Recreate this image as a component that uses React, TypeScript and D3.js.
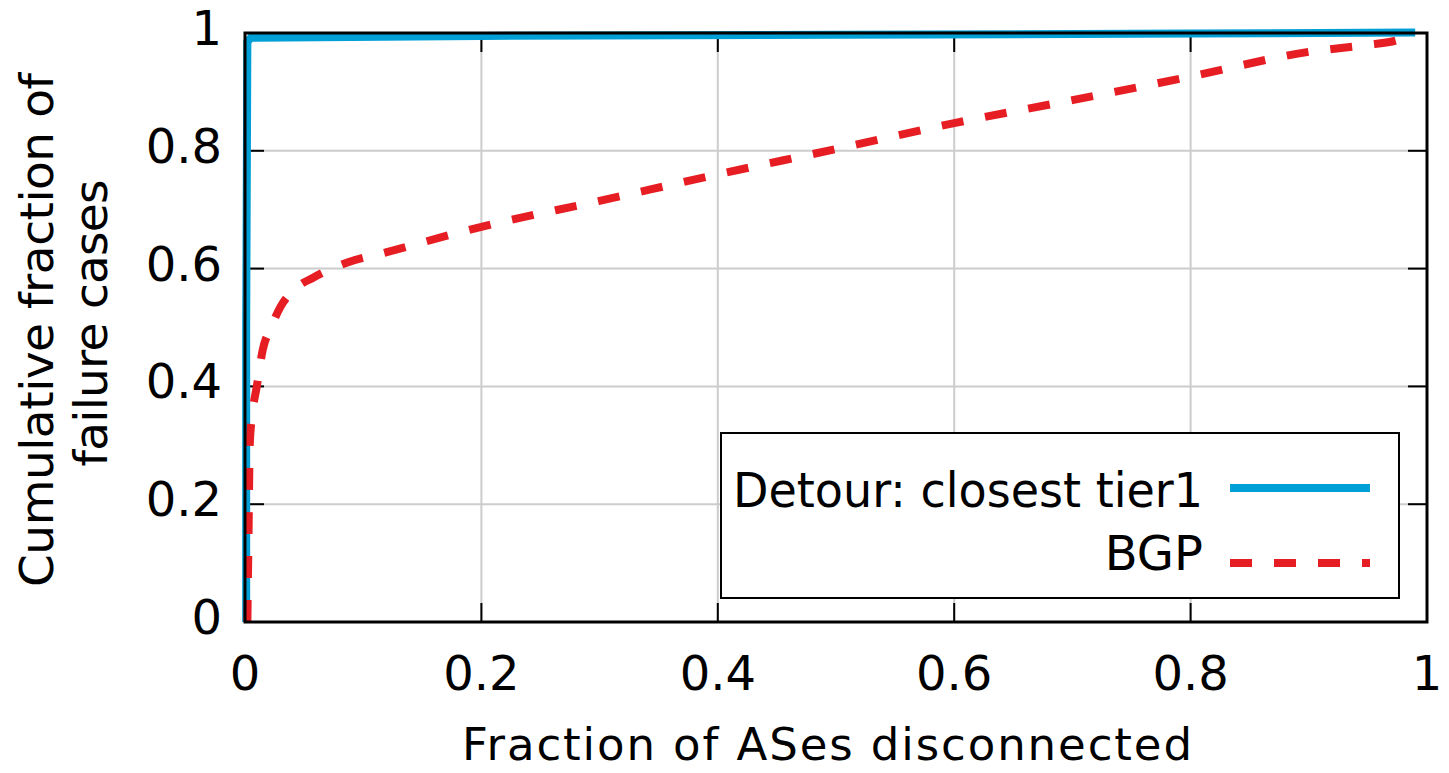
import React from 'react';
import * as d3 from 'd3';

// BGP CDF (fraction of ASes disconnected -> cumulative fraction)
const bgpX = [0.002, 0.003, 0.004, 0.006, 0.010, 0.015, 0.022, 0.030, 0.042, 0.058, 0.086, 0.12, 0.2, 0.3, 0.4, 0.5, 0.6, 0.7, 0.8, 0.9, 0.95, 0.975, 0.99];
const bgpY = [0.0, 0.15, 0.30, 0.35, 0.40, 0.462, 0.50, 0.535, 0.565, 0.585, 0.61, 0.628, 0.671, 0.715, 0.76, 0.803, 0.847, 0.886, 0.926, 0.968, 0.98, 0.988, 1.0];

// Detour: closest tier1
const detourX = [0.001, 0.001, 0.002, 0.005, 0.2, 0.5, 0.8, 0.99];
const detourY = [0.0, 0.5, 0.985, 0.992, 0.995, 0.997, 0.999, 1.001];

const xTicks = [0, 0.2, 0.4, 0.6, 0.8, 1];
const yTicks = [0, 0.2, 0.4, 0.6, 0.8, 1];
const tickLabels = ['0', '0.2', '0.4', '0.6', '0.8', '1'];

const W = 1449;
const H = 773;
const margin = { left: 245, right: 22, top: 33, bottom: 151 };
const FONT = 'DejaVu Sans, sans-serif';
const BLUE = '#009fd6';
const RED = '#e61e24';

export default function App() {
  const x = d3.scaleLinear().domain([0, 1]).range([margin.left, W - margin.right]);
  const y = d3.scaleLinear().domain([0, 1]).range([H - margin.bottom, margin.top]);

  const line = d3.line<[number, number]>()
    .x(d => x(d[0]))
    .y(d => y(d[1]));
  const smooth = d3.line<[number, number]>()
    .x(d => x(d[0]))
    .y(d => y(d[1]))
    .curve(d3.curveMonotoneX);

  const bgp = bgpX.map((v, i) => [v, bgpY[i]] as [number, number]);
  const detour = detourX.map((v, i) => [v, detourY[i]] as [number, number]);

  const x0 = x(0), x1 = x(1), y0 = y(0), y1 = y(1);
  const tickLen = 19;

  // legend
  const lg = { x: 721, y: 433, w: 678, h: 165 };

  return (
    <svg width={W} height={H} style={{ position: 'absolute', left: 0, top: 0, background: '#fff' }}
      fontFamily={FONT}>
      <rect x={0} y={0} width={W} height={H} fill="#fff" />
      {/* grid */}
      <g stroke="#cccccc" strokeWidth={2}>
        {xTicks.slice(1, -1).map(t => (
          <line key={'gx' + t} x1={x(t)} x2={x(t)} y1={y0} y2={y1} />
        ))}
        {yTicks.slice(1, -1).map(t => (
          <line key={'gy' + t} x1={x0} x2={x1} y1={y(t)} y2={y(t)} />
        ))}
      </g>
      {/* ticks */}
      <g stroke="#000" strokeWidth={2}>
        {xTicks.map(t => (
          <g key={'tx' + t}>
            <line x1={x(t)} x2={x(t)} y1={y0} y2={y0 - tickLen} />
            <line x1={x(t)} x2={x(t)} y1={y1} y2={y1 + tickLen} />
          </g>
        ))}
        {yTicks.map(t => (
          <g key={'ty' + t}>
            <line x1={x0} x2={x0 + tickLen} y1={y(t)} y2={y(t)} />
            <line x1={x1} x2={x1 - tickLen} y1={y(t)} y2={y(t)} />
          </g>
        ))}
      </g>
      {/* legend box */}
      <rect x={lg.x} y={lg.y} width={lg.w} height={lg.h} fill="#fff" stroke="#000" strokeWidth={2} />
      {/* curves */}
      <path d={line(detour) || ''} fill="none" stroke={BLUE} strokeWidth={8} />
      <path d={smooth(bgp) || ''} fill="none" stroke={RED} strokeWidth={8} strokeDasharray="22 22" />
      {/* border */}
      <rect x={x0} y={y1} width={x1 - x0} height={y0 - y1} fill="none" stroke="#000" strokeWidth={3} />
      {/* legend content */}
      <text x={1203} y={507} fontSize={48} textAnchor="end" textLength={470} lengthAdjust="spacingAndGlyphs">Detour: closest tier1</text>
      <line x1={1230} x2={1370} y1={488} y2={488} stroke={BLUE} strokeWidth={8} />
      <text x={1203} y={570} fontSize={48} textAnchor="end">BGP</text>
      <line x1={1230} x2={1370} y1={563} y2={563} stroke={RED} strokeWidth={8} strokeDasharray="22 22" />
      {/* tick labels */}
      {xTicks.map((t, i) => (
        <text key={'lx' + t} x={x(t)} y={690} fontSize={48} textAnchor="middle">{tickLabels[i]}</text>
      ))}
      {yTicks.map((t, i) => (
        <text key={'ly' + t} x={222} y={y(t) + 12} fontSize={48} textAnchor="end">{tickLabels[i]}</text>
      ))}
      {/* axis titles */}
      <text x={827} y={760} fontSize={45} textAnchor="middle" textLength={730} lengthAdjust="spacing">Fraction of ASes disconnected</text>
      <text transform="translate(53,330) rotate(-90)" fontSize={47} textAnchor="middle" textLength={514} lengthAdjust="spacing">Cumulative fraction of</text>
      <text transform="translate(107,323) rotate(-90)" fontSize={47} textAnchor="middle" textLength={287} lengthAdjust="spacing">failure cases</text>
    </svg>
  );
}
